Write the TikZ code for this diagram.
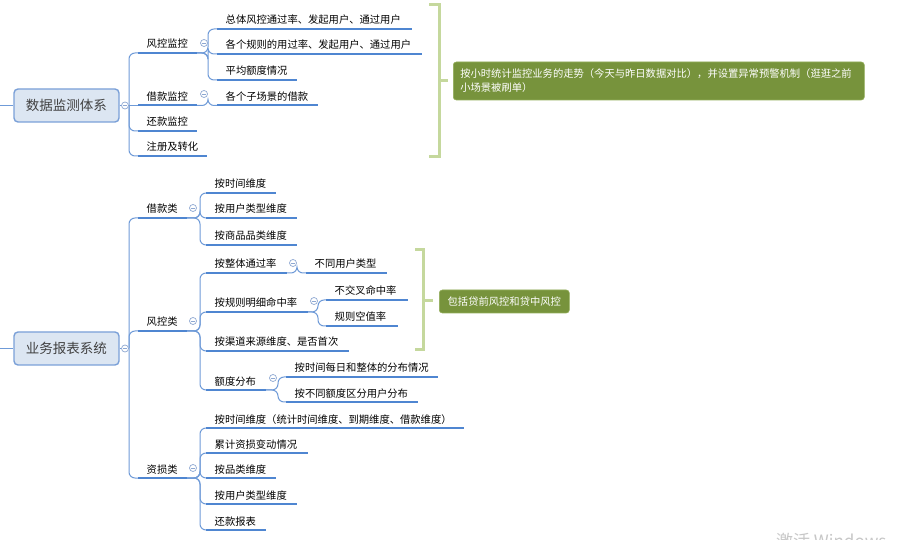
\documentclass[tikz,border=0pt]{standalone}
\usepackage{fontspec}
\setmainfont{Noto Sans CJK SC}
\definecolor{ulc}{HTML}{4F86D1}
\definecolor{cnc}{HTML}{6F9BD8}
\definecolor{foldc}{HTML}{8EA8D2}
\definecolor{rootfill}{HTML}{DCE6F2}
\definecolor{rootdraw}{HTML}{7AA0D8}
\definecolor{bracec}{HTML}{C5D89D}
\definecolor{callfill}{HTML}{77933C}
\definecolor{calldraw}{HTML}{93AE5A}
\tikzset{
  uline/.style={draw=ulc, line width=2pt},
  conn/.style={draw=cnc, line width=1pt, rounded corners=6pt},
  lbl/.style={anchor=base west, inner sep=0pt, text=black, font=\fontsize{10.3}{12}\selectfont},
  rootbox/.style={rounded corners=4pt, draw=rootdraw, line width=1.4pt, fill=rootfill,
    minimum width=105pt, minimum height=33pt, inner sep=0pt, text=black!75,
    font=\fontsize{13.5}{16}\selectfont},
  fold/.style={circle, draw=foldc, fill=white, line width=0.7pt, inner sep=0pt, minimum size=7pt,
    path picture={\draw[foldc, line width=0.7pt] ([xshift=-2pt]path picture bounding box.center) -- ([xshift=2pt]path picture bounding box.center);}},
  bracket/.style={draw=bracec, line width=3pt},
  callout/.style={fill=callfill, draw=calldraw, line width=0.6pt, rounded corners=3pt, text=white,
    inner xsep=7pt, inner ysep=3pt, font=\fontsize{10.3}{14}\selectfont}
}
\newcommand\mmt[5]{%
  \coordinate (#1-s) at (#2,#4);
  \coordinate (#1-e) at (#3,#4);
  \draw[uline] (#1-s) -- (#1-e);
  \node[lbl] (#1) at (#2+8.5,#4-5) {#5};}
\newcommand\mmfold[3]{\node[fold] (#1) at (#2,#3) {};}
\newcommand\mmconn[3]{\draw[conn] (#1-e) -- ([xshift=#3pt]#1-e) |- (#2-s);}
\begin{document}
\begin{tikzpicture}[x=1pt,y=-1pt]
\useasboundingbox (0,0) rectangle (898,540);
\fill[white] (0,0) rectangle (898,540);

% ===== top tree =====
\node[rootbox] (root1) at (66.5,105.5) {数据监测体系};
\coordinate (l1) at (0,105.5);
\coordinate (t1) at (129,105.5);
\draw[conn] (l1) -- (root1.west);
\draw[conn] (root1.east) -- (t1);

\mmt{A1}{138}{197}{53}{风控监控}
\mmt{A2}{138}{197}{105.5}{借款监控}
\mmt{A3}{138}{197}{131}{还款监控}
\mmt{A4}{138}{207}{156}{注册及转化}
\draw[conn] (t1) |- (A1-s);
\draw[conn] (t1) -- (A2-s);
\draw[conn] (t1) |- (A3-s);
\draw[conn] (t1) |- (A4-s);

\mmt{A1a}{217}{412}{29}{总体风控通过率、发起用户、通过用户}
\mmt{A1b}{217}{422}{54}{各个规则的用过率、发起用户、通过用户}
\mmt{A1c}{217}{297}{80}{平均额度情况}
\mmt{A2a}{217}{318}{105.5}{各个子场景的借款}
\mmconn{A1}{A1a}{11}
\mmconn{A1}{A1b}{11}
\mmconn{A1}{A1c}{11}
\mmconn{A2}{A2a}{11}

\mmfold{r1f}{125}{105.5}
\mmfold{A1f}{204}{43}
\mmfold{A2f}{204}{94}

% bracket 1 and callout
\coordinate (b1a) at (429,5);
\coordinate (b1b) at (439,5);
\coordinate (b1c) at (439,157);
\coordinate (b1d) at (429,157);
\coordinate (b1m) at (439,81);
\coordinate (b1n) at (448,81);
\draw[bracket] (b1a) -- (b1b) -- (b1c) -- (b1d);
\draw[bracket] (b1m) -- (b1n);
\node[callout, anchor=west, minimum width=411pt, minimum height=38pt, text width=397pt, align=left] (c1) at (453,81)
  {按小时统计监控业务的走势（今天与昨日数据对比），并设置异常预警机制（逛逛之前\\小场景被刷单）};

% ===== bottom tree =====
\node[rootbox] (root2) at (66.5,348.5) {业务报表系统};
\coordinate (l2) at (0,348.5);
\coordinate (t2) at (129,348.5);
\draw[conn] (l2) -- (root2.west);
\draw[conn] (root2.east) -- (t2);

\mmt{B1}{138}{187}{218}{借款类}
\mmt{B2}{138}{187}{331}{风控类}
\mmt{B3}{138}{187}{478}{资损类}
\draw[conn] (t2) |- (B1-s);
\draw[conn] (t2) |- (B2-s);
\draw[conn] (t2) |- (B3-s);

\mmt{B1a}{206}{276}{193}{按时间维度}
\mmt{B1b}{206}{297}{218}{按用户类型维度}
\mmt{B1c}{206}{297}{245}{按商品品类维度}
\mmconn{B1}{B1a}{13}
\mmconn{B1}{B1b}{13}
\mmconn{B1}{B1c}{13}

\mmt{B2a}{206}{287}{273}{按整体通过率}
\mmt{B2b}{206}{308}{312}{按规则明细命中率}
\mmt{B2c}{206}{349}{351}{按渠道来源维度、是否首次}
\mmt{B2d}{206}{266}{390}{额度分布}
\mmconn{B2}{B2a}{13}
\mmconn{B2}{B2b}{13}
\mmconn{B2}{B2c}{13}
\mmconn{B2}{B2d}{13}

\mmt{B2a1}{306}{387}{273}{不同用户类型}
\mmconn{B2a}{B2a1}{10}
\mmt{B2b1}{326}{408}{300}{不交叉命中率}
\mmt{B2b2}{326}{398}{326}{规则空值率}
\mmconn{B2b}{B2b1}{10}
\mmconn{B2b}{B2b2}{10}
\mmt{B2d1}{286}{438}{377}{按时间每日和整体的分布情况}
\mmt{B2d2}{286}{418}{402}{按不同额度区分用户分布}
\mmconn{B2d}{B2d1}{12}
\mmconn{B2d}{B2d2}{12}

\mmt{B3a}{206}{464}{428}{按时间维度（统计时间维度、到期维度、借款维度）}
\mmt{B3b}{206}{308}{453}{累计资损变动情况}
\mmt{B3c}{206}{276}{478}{按品类维度}
\mmt{B3d}{206}{297}{504}{按用户类型维度}
\mmt{B3e}{206}{266}{530}{还款报表}
\mmconn{B3}{B3a}{13}
\mmconn{B3}{B3b}{13}
\mmconn{B3}{B3c}{13}
\mmconn{B3}{B3d}{13}
\mmconn{B3}{B3e}{13}

\mmfold{r2f}{125}{348.5}
\mmfold{B1f}{193}{208}
\mmfold{B2f}{193}{321}
\mmfold{B3f}{193}{468}
\mmfold{B2af}{293}{263}
\mmfold{B2bf}{314}{301}
\mmfold{B2df}{273}{378}

% bracket 2 and callout
\coordinate (b2a) at (415,250);
\coordinate (b2b) at (423,250);
\coordinate (b2c) at (423,350);
\coordinate (b2d) at (415,350);
\coordinate (b2m) at (423,301);
\coordinate (b2n) at (433,301);
\draw[bracket] (b2a) -- (b2b) -- (b2c) -- (b2d);
\draw[bracket] (b2m) -- (b2n);
\node[callout, anchor=west, minimum width=130pt, minimum height=23pt] (c2) at (439,301.5) {包括贷前风控和贷中风控};

% watermark (cut off by the page edge)
\begin{scope}
\clip (0,0) rectangle (898,540);
\node[anchor=base west, inner sep=0pt, text=black!22, font=\fontsize{17}{20}\selectfont] (wm) at (776,547) {激活 Windows};
\end{scope}
\end{tikzpicture}
\end{document}
